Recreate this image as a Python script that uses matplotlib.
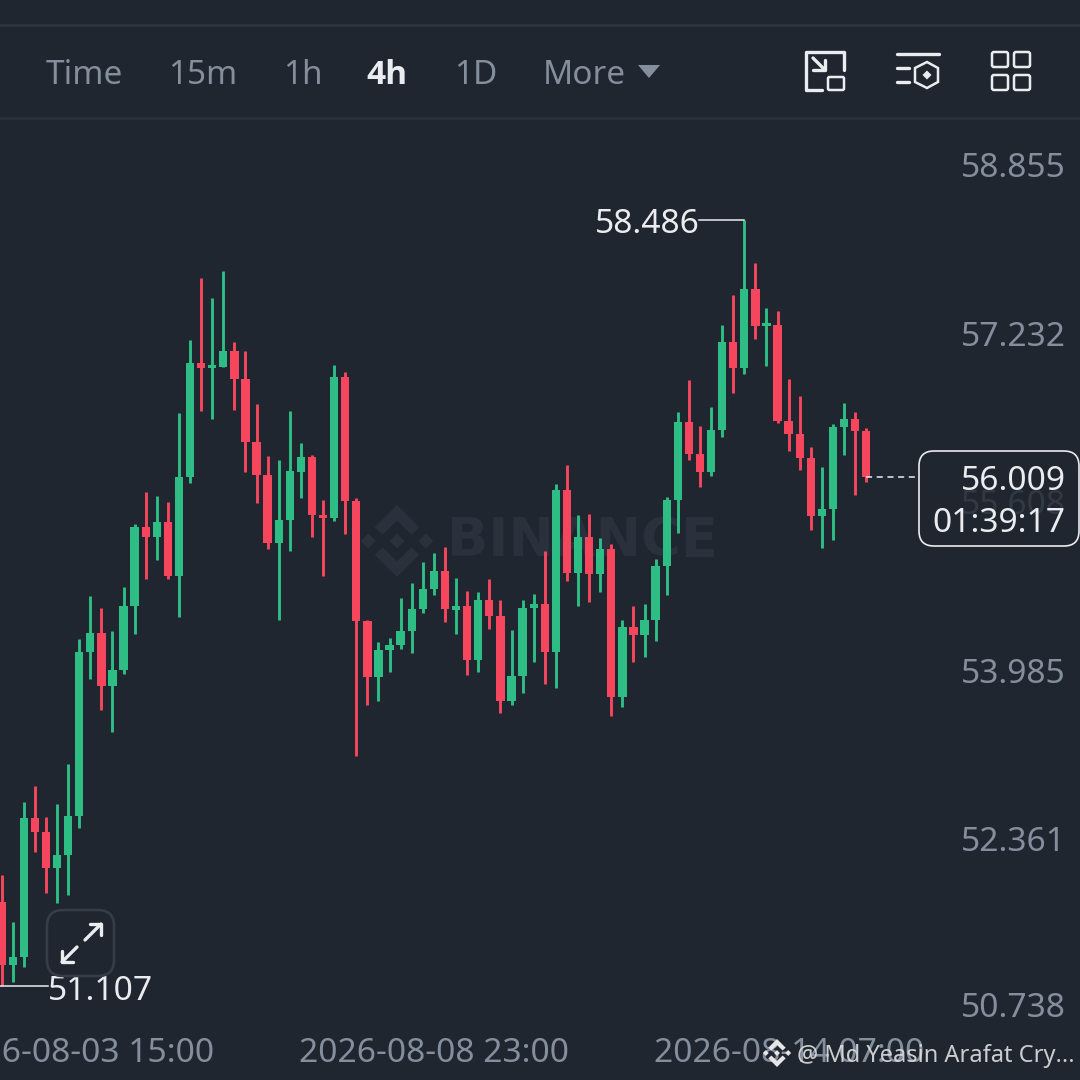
import matplotlib
matplotlib.use("Agg")
import matplotlib.pyplot as plt
from matplotlib.patches import FancyBboxPatch, Polygon

# 4h candles
opens = [51.919, 51.309, 51.383, 52.725, 52.593, 52.243, 52.368, 52.744, 54.324, 54.504,
         53.997, 54.151, 54.770, 55.531, 55.435, 55.579, 55.056, 56.013, 57.108, 57.063,
         57.073, 57.227, 56.951, 56.344, 56.026, 55.374, 55.596, 56.061, 56.206, 55.644,
         55.618, 56.970, 55.776, 54.623, 54.086, 54.347, 54.389, 54.524, 54.741, 54.928,
         55.107, 54.732, 54.764, 54.250, 54.822, 54.671, 53.852, 54.090, 54.751, 54.787,
         54.324, 55.885, 55.088, 55.429, 55.079, 55.316, 53.894, 54.565, 54.488, 54.632,
         55.156, 55.789, 56.543, 56.232, 56.059, 56.460, 57.311, 57.057, 57.821, 57.465,
         57.472, 56.547, 56.427, 56.193, 55.631, 55.705, 56.492, 56.569, 56.453]
closes = [51.309, 51.383, 52.725, 52.593, 52.243, 52.368, 52.744, 54.324, 54.504, 53.997,
          54.151, 54.770, 55.531, 55.435, 55.579, 55.056, 56.013, 57.108, 57.063, 57.089,
          57.227, 56.951, 56.344, 56.026, 55.374, 55.596, 56.065, 56.206, 55.644, 55.612,
          56.970, 55.776, 54.623, 54.086, 54.344, 54.389, 54.524, 54.741, 54.928, 55.107,
          54.736, 54.764, 54.250, 54.822, 54.674, 53.852, 54.090, 54.751, 54.787, 54.324,
          55.885, 55.088, 55.429, 55.079, 55.316, 53.894, 54.565, 54.488, 54.632, 55.156,
          55.789, 56.543, 56.232, 56.059, 56.460, 57.311, 57.057, 57.821, 57.465, 57.494,
          56.547, 56.427, 56.193, 55.631, 55.705, 56.492, 56.569, 56.453, 56.009]
highs = [52.176, 51.723, 52.879, 53.036, 52.738, 52.860, 53.245, 54.449, 54.864, 54.745,
         54.527, 54.953, 55.554, 55.863, 55.824, 55.772, 56.624, 57.330, 57.924, 57.737,
         57.995, 57.314, 57.224, 56.716, 56.215, 56.174, 56.643, 56.338, 56.219, 55.789,
         57.086, 57.019, 55.805, 54.632, 54.418, 54.462, 54.842, 54.986, 55.188, 55.275,
         55.336, 55.034, 54.915, 54.905, 55.030, 54.828, 54.533, 54.825, 54.883, 55.297,
         55.940, 56.123, 55.641, 55.656, 55.420, 55.362, 54.630, 54.770, 54.784, 55.217,
         55.815, 56.634, 56.948, 56.499, 56.688, 57.472, 57.761, 58.486, 58.072, 57.641,
         57.612, 56.951, 56.793, 56.302, 56.104, 56.518, 56.720, 56.639, 56.479]
lows = [51.107, 51.148, 51.292, 52.400, 52.005, 51.903, 51.983, 52.626, 54.061, 53.765,
        53.551, 54.109, 54.498, 55.028, 55.211, 55.028, 54.664, 55.955, 56.649, 56.569,
        57.073, 56.656, 56.061, 55.763, 55.314, 54.632, 55.300, 55.805, 55.435, 55.059,
        55.589, 55.461, 53.325, 53.814, 53.855, 54.134, 54.350, 54.318, 54.703, 54.876,
        54.610, 54.501, 54.106, 54.134, 54.543, 53.737, 53.811, 53.926, 54.231, 54.016,
        53.975, 55.008, 54.770, 54.809, 54.905, 53.708, 53.797, 54.231, 54.279, 54.427,
        54.873, 55.468, 56.174, 55.911, 56.020, 56.398, 56.822, 56.999, 57.340, 57.076,
        56.533, 56.258, 56.078, 55.497, 55.326, 55.400, 56.222, 55.837, 55.962]

price_ticks = [58.855, 57.232, 55.608, 53.985, 52.361, 50.738]
date_idx = [7, 39, 71]
date_labels = ["2026-08-03 15:00", "2026-08-08 23:00", "2026-08-14 07:00"]
high_idx, high_price = 67, 58.486
low_idx, low_price = 0, 51.107
last_price = 56.009
countdown = "01:39:17"

BG = "#1f2630"
GREEN = "#2ebd85"
RED = "#f6465d"
GREY = "#848e9c"
WHITE = "#eaecef"
SIZE = 24.2
plt.rcParams["font.family"] = ["Noto Sans", "DejaVu Sans"]

fig = plt.figure(figsize=(10.8, 10.8), dpi=100, facecolor=BG)

# pixel layers under and over the chart, for the app furniture
ax_bg = fig.add_axes([0, 0, 1, 1], zorder=0)
ax = fig.add_axes([0, 0, 1, 1], zorder=1)
ui = fig.add_axes([0, 0, 1, 1], zorder=2)
for a in (ax_bg, ui):
    a.set_xlim(0, 1080)
    a.set_ylim(1080, 0)
    a.axis("off")
ax.patch.set_alpha(0)
ui.patch.set_alpha(0)


def logo(target, cx, cy, r, color):
    chevron = [(0, -1), (.62, -.38), (.4, -.18), (0, -.56), (-.4, -.18), (-.62, -.38)]
    diamond = [(0, -.21), (.21, 0), (0, .21), (-.21, 0)]
    shapes = [chevron, [(x, -y) for x, y in chevron], diamond,
              [(x - .8, y) for x, y in diamond], [(x + .8, y) for x, y in diamond]]
    for s in shapes:
        target.add_patch(Polygon([(cx + x * r, cy + y * r) for x, y in s], color=color, lw=0))


# watermark
logo(ax_bg, 397, 541, 36, "#2a313c")
ax_bg.text(447, 541, "BINANCE", color="#2a313c", fontsize=39, family="DejaVu Sans", fontweight="bold",
           va="center", ha="left")

# candles
x = list(range(len(opens)))
colors = [GREEN if c >= o else RED for o, c in zip(opens, closes)]
bottoms = [min(o, c) for o, c in zip(opens, closes)]
heights = [abs(o - c) for o, c in zip(opens, closes)]
ax.vlines(x, lows, highs, colors=colors, lw=2.1)
ax.bar(x, heights, bottom=bottoms, width=0.75, color=colors, lw=0)

ax.set_xlim(-0.144, 97.285)
ax.set_ylim(50.2009, 60.6055)
for side in ax.spines.values():
    side.set_visible(False)
ax.set_yticks([])
ax.set_xticks(date_idx, date_labels)
ax.tick_params(axis="x", length=0, pad=-31, labelsize=SIZE, labelcolor=GREY)

# price scale labels sit just above their levels, the lowest one a bit higher
for p in price_ticks:
    rise = 5.4 if p == price_ticks[-1] else 3.2
    ax.annotate(f"{p:.3f}", (1, p), xycoords=("axes fraction", "data"), xytext=(-10, rise),
                textcoords="offset points", ha="right", va="baseline", color=GREY, fontsize=SIZE)

# high / low markers
ax.plot([high_idx, high_idx - 4.05], [high_price, high_price], color=WHITE, lw=1.1)
ax.annotate(f"{high_price:.3f}", (high_idx - 4.05, high_price), xytext=(0, -9), textcoords="offset points",
            color=WHITE, fontsize=SIZE, ha="right", va="baseline")
ax.plot([low_idx - 1, low_idx + 4.2], [low_price, low_price], color=WHITE, lw=1.1)
ax.annotate(f"{low_price:.3f}", (low_idx + 4.15, low_price), xytext=(0, -10), textcoords="offset points",
            color=WHITE, fontsize=SIZE, ha="left", va="baseline")

# last price tag
ax.plot([len(opens) - 1, 82.7], [last_price, last_price], color=WHITE, lw=1.1, dashes=(4, 3))
ui.add_patch(FancyBboxPatch((919, 451), 160, 95, boxstyle="round,pad=0,rounding_size=15",
                            fc=BG, alpha=0.82, lw=0))
ui.add_patch(FancyBboxPatch((919, 451), 160, 95, boxstyle="round,pad=0,rounding_size=15",
                            fc="none", ec=WHITE, lw=1.2))
ui.text(1065.5, 490, f"{last_price:.3f}", color=WHITE, fontsize=SIZE, ha="right", va="baseline")
ui.text(1065.5, 532, countdown, color=WHITE, fontsize=SIZE, ha="right", va="baseline")

# header
ui.plot([0, 1080], [24.5, 24.5], color="#2f3641", lw=1.8)
ui.plot([0, 1080], [117.5, 117.5], color="#2a313b", lw=1.8)
tabs = ["Time", "15m", "1h", "4h", "1D", "More"]
tab_x = [84, 203, 303, 387, 476, 584]
for label, tx in zip(tabs, tab_x):
    if label == "4h":
        ui.text(tx, 84, label, ha="center", va="baseline", fontsize=24, color=WHITE,
                family="Open Sans", fontweight="bold")
    else:
        ui.text(tx, 84, label, ha="center", va="baseline", fontsize=24, color=GREY)
ui.add_patch(Polygon([(638, 65), (660, 65), (649, 78)], color=GREY, lw=0))

# toolbar icons
ic = dict(color=WHITE, lw=2.4, solid_capstyle="round", solid_joinstyle="round")
ui.plot([844, 844, 806, 806, 822], [70, 52, 52, 90, 90], **ic)
ui.plot([813, 825], [58, 70], **ic)
ui.plot([825, 825, 813], [60, 70, 70], **ic)
ui.add_patch(FancyBboxPatch((828, 77), 16, 13, boxstyle="round,pad=0,rounding_size=1.5",
                            fc="none", ec=WHITE, lw=1.8))

ui.plot([897, 939], [54, 54], **ic)
ui.plot([897, 909], [68, 68], **ic)
ui.plot([897, 909], [82, 82], **ic)
ui.add_patch(Polygon([(927, 62), (938, 68), (938, 82), (927, 88), (915, 82), (915, 68)],
                     fc="none", ec=WHITE, lw=1.8))
ui.add_patch(Polygon([(927, 70.5), (931.5, 75), (927, 79.5), (922.5, 75)], color=WHITE, lw=0))

for gx in (992, 1014):
    for gy in (52, 75):
        ui.add_patch(FancyBboxPatch((gx, gy), 16, 15, boxstyle="round,pad=0,rounding_size=2",
                                    fc="none", ec=WHITE, lw=1.8))

# expand button
ui.add_patch(FancyBboxPatch((47, 910), 67, 66, boxstyle="round,pad=0,rounding_size=16",
                            fc="none", ec="#363c48", lw=1.9))
ui.plot([85, 101], [940, 924], **ic)
ui.plot([90, 101, 101], [924, 924, 935], **ic)
ui.plot([77, 62], [947, 962], **ic)
ui.plot([62, 62, 73], [951, 962, 962], **ic)

# square post credit at the bottom
logo(ui, 777, 1053, 14, "#e6e6e6")
ui.text(797, 1056, "@ Md Yeasin Arafat Cry...", color="#dedfe1", fontsize=17, ha="left", va="center", alpha=0.9)

fig.savefig("out.png", dpi=100, facecolor=BG)
